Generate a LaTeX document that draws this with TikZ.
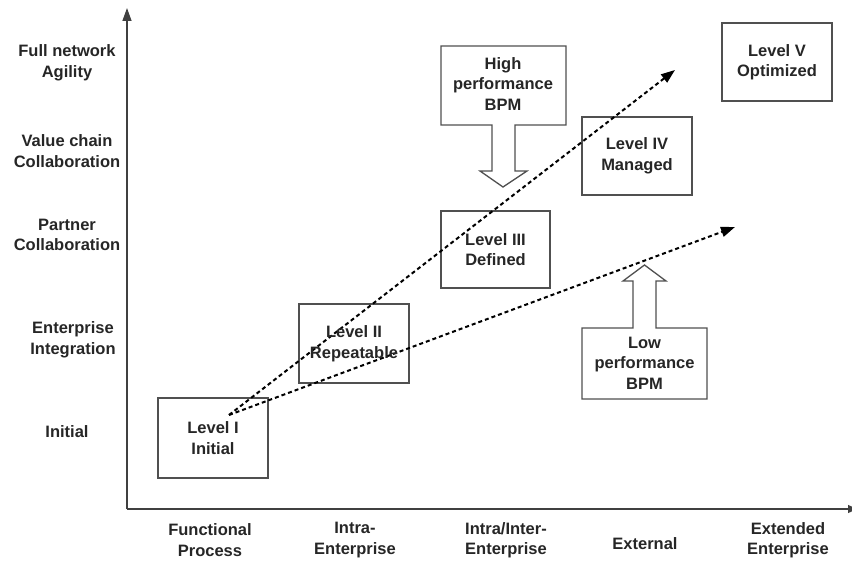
\documentclass[tikz,border=0pt]{standalone}
\usepackage{fontspec}
\setmainfont{Liberation Sans}
\usetikzlibrary{arrows.meta}
\definecolor{axisgray}{HTML}{404040}
\definecolor{boxgray}{HTML}{505050}
\tikzset{
  lbl/.style={align=center, inner sep=0pt, font=\fontsize{16.5}{20.5}\selectfont\bfseries, text=black!85},
  levelbox/.style={draw=boxgray, line width=1.3pt, fill=white, inner sep=0pt},
  callout/.style={draw=boxgray, line width=1.3pt, fill=white, line join=miter},
  axisline/.style={draw=axisgray, line width=1.3pt},
  trend/.style={line width=2pt, dash pattern=on 4pt off 3pt, -{Triangle[length=14pt,width=10pt]}}
}
\begin{document}
\begin{tikzpicture}[x=1pt, y=-1pt]
\useasboundingbox (0,0) rectangle (852,564);

% axes
\coordinate (O) at (127,509);
\coordinate (ytop) at (127,8);
\coordinate (xend) at (857,509);
\draw[axisline, -{Triangle[length=13pt,width=9pt]}] (O) -- (ytop);
\draw[axisline, -{Triangle[length=9pt,width=8pt]}] (O) -- (xend);

% y labels
\node[lbl] (y5) at (67,63) {Full network\\Agility};
\node[lbl] (y4) at (67,151) {Value chain\\Collaboration};
\node[lbl] (y3) at (67,235) {Partner\\Collaboration};
\node[lbl] (y2) at (73,340) {Enterprise\\Integration};
\node[lbl] (y1) at (67,432) {Initial};

% x labels
\node[lbl] (x1) at (210,540) {Functional\\Process};
\node[lbl] (x2) at (355,540) {Intra-\\Enterprise};
\node[lbl] (x3) at (506,540) {Intra/Inter-\\Enterprise};
\node[lbl] (x4) at (645,544) {External};
\node[lbl] (x5) at (788,540) {Extended\\Enterprise};

% level boxes
\node[levelbox, minimum width=110pt, minimum height=80pt] (L1) at (213,438) {};
\node[lbl] (L1t) at (L1) {Level I\\Initial};
\node[levelbox, minimum width=110pt, minimum height=79pt] (L2) at (354,343.5) {};
\node[levelbox, minimum width=109pt, minimum height=77pt] (L3) at (495.5,249.5) {};
\node[levelbox, minimum width=110pt, minimum height=78pt] (L4) at (637,156) {};
\node[levelbox, minimum width=110pt, minimum height=78pt] (L5) at (777,62) {};

% callouts
\draw[callout] (441,46) -- (566,46) -- (566,125) -- (515,125) -- (515,171) -- (527,171)
  -- (503,187) -- (480,171) -- (492,171) -- (492,125) -- (441,125) -- cycle;
\node[lbl] (high) at (503,84) {High\\performance\\BPM};

\draw[callout] (582,399) -- (582,328) -- (633,328) -- (633,281) -- (623,281) -- (644.5,265)
  -- (666,281) -- (656,281) -- (656,328) -- (707,328) -- (707,399) -- cycle;
\node[lbl] (low) at (644.5,363) {Low\\performance\\BPM};

% trend arrows
\coordinate (s) at (229,415);
\coordinate (e1) at (675,70);
\coordinate (e2) at (735,227);
\draw[trend] (s) -- (e1);
\draw[trend] (s) -- (e2);

% level texts (above trend lines)
\node[lbl] (L2t) at (L2) {Level II\\Repeatable};
\node[lbl] (L3t) at (L3) {Level III\\Defined};
\node[lbl] (L4t) at (L4) {Level IV\\Managed};
\node[lbl] (L5t) at (L5) {Level V\\Optimized};
\end{tikzpicture}
\end{document}
